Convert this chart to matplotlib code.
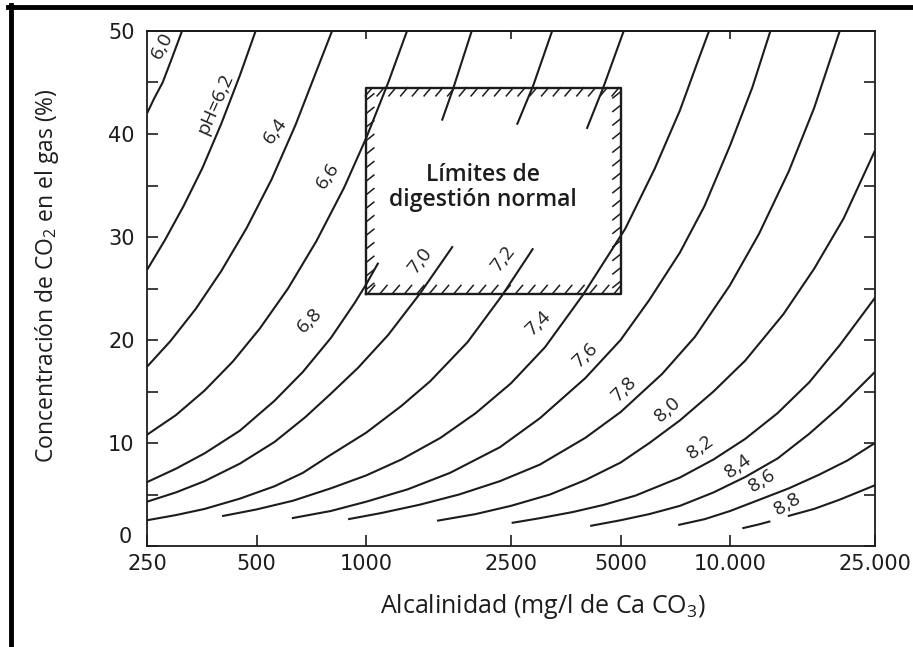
import numpy as np
import matplotlib.pyplot as plt
from matplotlib.transforms import ScaledTranslation

plt.rcParams['font.family'] = ['Open Sans', 'DejaVu Sans']
plt.rcParams['mathtext.fontset'] = 'custom'
plt.rcParams['mathtext.rm'] = 'Open Sans'
plt.rcParams['mathtext.it'] = 'Open Sans:italic'

# pH lines: alkalinity (mg/l CaCO3) vs CO2 in the gas (%)
# nan = place where the line is broken inside the box
alk_60 = [250, 262, 276, 293, 312]
co2_60 = [42.0, 43.5, 45.0, 47.4, 50.0]

alk_62 = [250, 280, 315, 355, 400, 450, 497]
co2_62 = [26.8, 29.7, 33.0, 36.7, 41.0, 45.7, 50.0]

alk_64 = [250, 290, 340, 400, 470, 550, 640, 730, 806]
co2_64 = [17.4, 19.9, 23.0, 26.7, 30.9, 35.6, 40.9, 46.1, 50.0]

alk_66 = [250, 300, 360, 430, 510, 610, 730, 870, 1000, 1150, 1295]
co2_66 = [10.8, 12.7, 15.1, 17.9, 21.1, 25.0, 29.6, 34.8, 39.6, 45.0, 50.0]

alk_68 = [250, 300, 360, 450, 560, 670, 800, 930, 1000, 1080, np.nan, 1615, 1730, 1950]
co2_68 = [6.2, 7.5, 9.0, 11.2, 14.1, 16.9, 20.2, 23.6, 25.4, 27.5, np.nan, 41.3, 44.3, 50.0]

alk_70 = [250, 300, 360, 450, 560, 680, 795, 950, 1150, 1405, 1730, np.nan, 2596, 2877, 3243]
co2_70 = [4.3, 5.2, 6.3, 8.0, 10.1, 12.5, 14.7, 17.3, 20.5, 24.5, 29.1, np.nan, 40.9, 44.7, 50.0]

alk_72 = [250, 300, 360, 450, 560, 670, 795, 1000, 1250, 1500, 1900, 2360, 2877, np.nan, 4037, 4480, 5100]
co2_72 = [2.5, 3.0, 3.6, 4.6, 5.8, 7.1, 8.8, 11.0, 13.6, 16.0, 19.8, 24.3, 28.9, np.nan, 40.5, 44.5, 50.0]

alk_74 = [402, 500, 630, 800, 1000, 1250, 1600, 2000, 2500, 3100, 3945, 5150, 6200, 7280, 8100, 8750]
co2_74 = [2.9, 3.55, 4.4, 5.6, 6.85, 8.4, 10.5, 12.9, 15.8, 19.3, 24.4, 30.8, 36.6, 42.3, 46.8, 50.0]

alk_76 = [625, 800, 1000, 1300, 1700, 2333, 3000, 4000, 5000, 6000, 7280, 8500, 10000, 11500, 12900]
co2_76 = [2.7, 3.4, 4.3, 5.5, 7.1, 9.6, 12.4, 16.3, 20.0, 23.9, 28.5, 33.0, 38.9, 44.5, 50.0]

alk_78 = [892, 1100, 1400, 1800, 2333, 3000, 4000, 5000, 6500, 8000, 9980, 12000, 14500, 17000, 20000]
co2_78 = [2.6, 3.2, 4.0, 5.0, 6.3, 7.9, 10.5, 13.0, 16.7, 20.3, 25.3, 30.3, 36.4, 42.5, 50.0]

alk_80 = [1566, 2000, 2500, 3200, 4000, 5000, 6000, 7280, 9000, 11000, 14000, 17000, 20500, 25000]
co2_80 = [2.45, 3.1, 3.9, 5.0, 6.4, 8.1, 10.0, 12.2, 15.0, 18.0, 22.5, 26.9, 31.8, 38.4]

alk_82 = [2510, 3000, 3700, 4500, 5500, 7280, 9000, 11000, 13500, 16500, 20000, 25000]
co2_82 = [2.24, 2.7, 3.3, 4.0, 4.9, 6.65, 8.4, 10.4, 12.9, 15.9, 19.5, 24.1]

alk_84 = [4125, 5000, 6000, 7280, 9000, 11000, 13500, 16500, 20000, 25000]
co2_84 = [1.95, 2.5, 3.1, 3.9, 5.2, 6.7, 8.5, 10.9, 13.5, 16.9]

alk_86 = [7200, 8500, 10000, 12250, 14500, 17500, 21000, 25000]
co2_86 = [2.04, 2.6, 3.4, 4.6, 5.6, 6.9, 8.3, 10.0]

alk_88 = [10800, 12000, 12900, np.nan, 14400, 17000, 20000, 25000]
co2_88 = [1.72, 2.1, 2.4, np.nan, 2.9, 3.6, 4.5, 5.9]

curves = [(alk_60, co2_60), (alk_62, co2_62), (alk_64, co2_64), (alk_66, co2_66),
          (alk_68, co2_68), (alk_70, co2_70), (alk_72, co2_72), (alk_74, co2_74),
          (alk_76, co2_76), (alk_78, co2_78), (alk_80, co2_80), (alk_82, co2_82),
          (alk_84, co2_84), (alk_86, co2_86), (alk_88, co2_88)]

# curve labels: text, position (alk, co2), angle
lab_text = ['6,0', 'pH=6,2', '6,4', '6,6', '6,8', '7,0', '7,2', '7,4',
            '7,6', '7,8', '8,0', '8,2', '8,4', '8,6', '8,8']
lab_alk = [276, 384, 562, 785, 701, 1405, 2376, 2966, 3993, 5100, 6730, 8260, 10520, 12250, 14370]
lab_co2 = [48.6, 42.9, 40.3, 36.0, 21.9, 27.7, 27.9, 21.6, 18.5, 15.2, 13.2, 9.6, 7.7, 6.3, 4.1]
lab_rot = [62, 66, 54, 56, 45, 52, 52, 44, 44, 45, 42, 35, 36, 32, 30]

# "normal digestion" box
box_alk = [1000, 5000]
box_co2 = [24.5, 44.5]

xticks = [250, 500, 1000, 2500, 5000, 10000, 25000]
xlabels = ['250', '500', '1000', '2500', '5000', '10.000', '25.000']
yticks = [0, 10, 20, 30, 40, 50]

ink = '#1c1c1c'

fig = plt.figure(figsize=(9.13, 6.47), dpi=100)
ax = fig.add_axes([147 / 913, 1 - 546 / 647, (875 - 147) / 913, (546 - 31) / 647])

for a, c in curves:
    ax.plot(a, c, color=ink, lw=1.5, solid_capstyle='butt')

# box and its hatching
x0, x1 = box_alk
y0, y1 = box_co2
ax.plot([x0, x1, x1, x0, x0], [y0, y0, y1, y1, y0], color=ink, lw=1.7)
for a in np.geomspace(x0 * 1.04, x1 * 0.99, 22):
    ax.plot([a, a / 1.045], [y1, y1 - 0.8], color=ink, lw=1.1)
for a in np.geomspace(x0 * 1.01, x1 * 0.96, 21):
    ax.plot([a, a * 1.045], [y0, y0 + 0.8], color=ink, lw=1.1)
for c in np.linspace(y0 + 0.4, y1 - 1.2, 15):
    ax.plot([x0, x0 * 1.05], [c, c + 0.6], color=ink, lw=1.1)
for c in np.linspace(y0 + 1.2, y1 - 0.4, 15):
    ax.plot([x1, x1 / 1.05], [c, c - 0.6], color=ink, lw=1.1)

ax.text(2090, 34.8, 'Límites de\ndigestión normal', ha='center', va='center',
        fontsize=16.5, fontweight='semibold', color=ink, linespacing=1.1)

for t, a, c, r in zip(lab_text, lab_alk, lab_co2, lab_rot):
    ax.text(a, c, t, rotation=r, rotation_mode='anchor', ha='center', va='center',
            fontsize=14, color=ink)

ax.set_xscale('log')
ax.set_xlim(250, 25000)
ax.set_ylim(0, 50)
ax.set_xticks(xticks)
ax.set_xticklabels(xlabels, family='DejaVu Sans', fontsize=15, color=ink)
ax.xaxis.set_minor_locator(plt.NullLocator())
ax.set_yticks(yticks)
ax.set_yticklabels([str(v) for v in yticks], family='DejaVu Sans', fontsize=15, color=ink)
ax.set_yticks(np.arange(5, 50, 10), minor=True)
ax.tick_params(axis='x', which='both', direction='in', length=8, width=1.2,
               top=False, pad=6, colors=ink)
ax.tick_params(axis='y', which='both', direction='in', length=8, width=1.2,
               left=True, right=True, pad=9, colors=ink)

# the "0" sits a little above the corner, clear of "250"
zero = ax.get_yticklabels()[0]
zero.set_transform(zero.get_transform() + ScaledTranslation(-2 / 72, 8 / 72, fig.dpi_scale_trans))

top = ax.secondary_xaxis('top')
top.set_xticks([1000, 2500, 10000])
top.xaxis.set_minor_locator(plt.NullLocator())
top.tick_params(axis='x', direction='in', length=6, width=1.2, labeltop=False, colors=ink)
top.spines['top'].set_linewidth(1.3)

for s in ax.spines.values():
    s.set_linewidth(1.3)
    s.set_color(ink)

ax.set_xlabel('Alcalinidad (mg/l de Ca CO$_3$)', fontsize=18, color=ink)
ax.xaxis.set_label_coords(0.544, -0.09)
ax.set_ylabel('Concentración de CO$_2$ en el gas (%)', fontsize=16.5, color=ink)
ax.yaxis.set_label_coords(-0.118, 0.524)

# black scan border on the top and left edges
fig.add_artist(plt.Line2D([8 / 913, 1], [1 - 7 / 647] * 2, color='black', lw=3.5,
                          transform=fig.transFigure))
fig.add_artist(plt.Line2D([10.5 / 913] * 2, [0, 1 - 5 / 647], color='black', lw=3.5,
                          transform=fig.transFigure))

fig.savefig('out.png', dpi=100, facecolor='white')
